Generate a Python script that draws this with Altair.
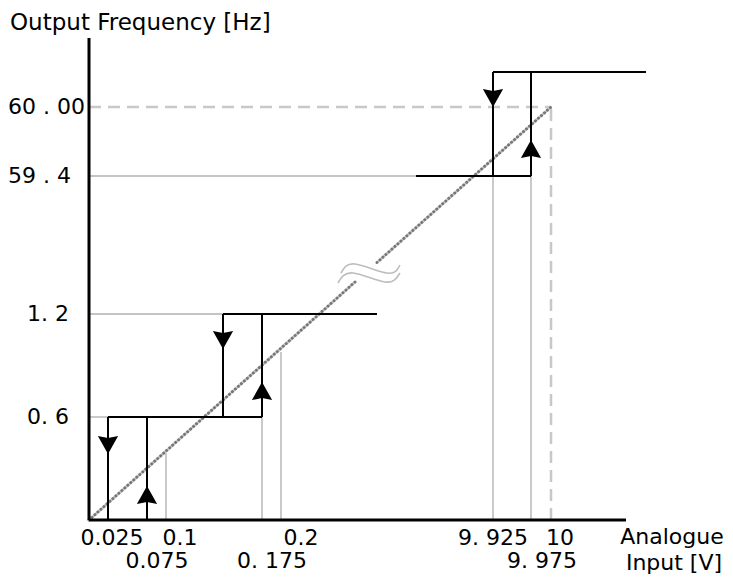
import altair as alt
import pandas as pd

# ---- schematic positions (diagram is not to scale; axis is broken) ----
# x: analogue input (V) -> schematic position
volt_names = ["0.025", "0.075", "0.1", "0.125", "0.175", "0.2", "9.925", "9.975", "10"]
volt_pos = [19, 58, 77, 134, 173, 192, 404, 442, 462]
# y: output frequency (Hz) -> schematic position
freq_names = ["0", "0.6", "1.2", "59.4", "60.00", "top"]
freq_pos = [0, 103, 206, 344, 413, 448]

V = dict(zip(volt_names, volt_pos))
F = dict(zip(freq_names, freq_pos))

# hysteresis output (black): [x1, y1, x2, y2]
step_segments = [
    [V["0.025"], F["0.6"], V["0.175"], F["0.6"]],
    [V["0.025"], F["0"], V["0.025"], F["0.6"]],
    [V["0.075"], F["0"], V["0.075"], F["0.6"]],
    [V["0.125"], F["1.2"], 288, F["1.2"]],
    [V["0.125"], F["0.6"], V["0.125"], F["1.2"]],
    [V["0.175"], F["0.6"], V["0.175"], F["1.2"]],
    [327, F["59.4"], V["9.975"], F["59.4"]],
    [V["9.925"], F["top"], 557, F["top"]],
    [V["9.925"], F["59.4"], V["9.925"], F["top"]],
    [V["9.975"], F["59.4"], V["9.975"], F["top"]],
]
# grey reference lines
guide_segments = [
    [0, F["0.6"], V["0.025"], F["0.6"]],
    [0, F["1.2"], V["0.125"], F["1.2"]],
    [0, F["59.4"], 327, F["59.4"]],
    [V["0.1"], F["0"], V["0.1"], 67],
    [V["0.175"], F["0"], V["0.175"], F["0.6"]],
    [V["0.2"], F["0"], V["0.2"], 168],
    [V["9.925"], F["0"], V["9.925"], F["59.4"]],
    [V["9.975"], F["0"], V["9.975"], F["59.4"]],
]
# dashed 60 Hz / 10 V limits
limit_segments = [
    [0, F["60.00"], V["10"], F["60.00"]],
    [V["10"], F["0"], V["10"], F["60.00"]],
]
# linear characteristic (dotted), broken in the middle
linear_segments = [
    [0, 0, 266, 238],
    [288, 257.5, V["10"], F["60.00"]],
]
# axes
axis_segments = [
    [0, 0, 537, 0],
    [0, 0, 0, 482],
]
# arrows: x, y, direction
arrow_x = [V["0.025"], V["0.075"], V["0.125"], V["0.175"], V["9.925"], V["9.975"]]
arrow_y = [75, 25, 180, 129, 422, 371]
arrow_dir = ["down", "up", "down", "up", "down", "up"]

# break symbol (two waves)
wave_x = [252, 266, 298, 311, 249, 264, 296, 311]
wave_y = [247, 256, 247, 255, 237, 247, 238, 247]
wave_id = [1, 1, 1, 1, 2, 2, 2, 2]
wave_ord = [0, 1, 2, 3, 0, 1, 2, 3]

# labels
label_text = ["0.025", "0.1", "0.2", "9. 925", "10",
              "0.075", "0. 175", "9. 975",
              "60 . 00", "59 . 4", "1. 2", "0. 6",
              "Analogue", "Input [V]", "Output Frequency  [Hz]"]
label_x = [23, 91, 212, 404, 471,
           68, 183, 453,
           -81, -81, -62, -62,
           583, 585, -79]
label_y = [-18, -18, -18, -18, -18,
           -41, -41, -41,
           F["60.00"], F["59.4"], F["1.2"], F["0.6"],
           -17, -43, 497]
label_align = ["center"] * 8 + ["left"] * 4 + ["center", "center", "left"]
label_size = [22] * 12 + [22, 22, 23]

W, H = 560, 482
xs = alt.Scale(domain=[0, W], nice=False, zero=False)
ys = alt.Scale(domain=[0, H], nice=False, zero=False)


def seg_df(segs):
    return pd.DataFrame(segs, columns=["x", "y", "x2", "y2"])


def rule_layer(segs, **style):
    return alt.Chart(seg_df(segs)).mark_rule(**style).encode(
        x=alt.X("x:Q", scale=xs, axis=None),
        y=alt.Y("y:Q", scale=ys, axis=None),
        x2="x2:Q",
        y2="y2:Q",
    )


guides = rule_layer(guide_segments, color="#c4c4c4", strokeWidth=1.8)
limits = rule_layer(limit_segments, color="#c8c8c8", strokeWidth=2.5, strokeDash=[12, 7])
linear_base = rule_layer(linear_segments, color="#cfcfcf", strokeWidth=3)
linear = rule_layer(linear_segments, color="#777777", strokeWidth=3,
                    strokeDash=[0.01, 4], strokeCap="round")
steps = rule_layer(step_segments, color="black", strokeWidth=2)
axes = rule_layer(axis_segments, color="black", strokeWidth=3)

wave_df = pd.DataFrame({"x": wave_x, "y": wave_y, "g": wave_id, "o": wave_ord})
waves = alt.Chart(wave_df).mark_line(color="#bdbdbd", strokeWidth=1.6, interpolate="natural").encode(
    x=alt.X("x:Q", scale=xs, axis=None),
    y=alt.Y("y:Q", scale=ys, axis=None),
    detail="g:N",
    order="o:Q",
)

arrow_df = pd.DataFrame({"x": arrow_x, "y": arrow_y, "d": arrow_dir})
down_path = "M-1,-0.9L0,0.9L1,-0.9L0,-0.7Z"
up_path = "M-1,0.9L0,-0.9L1,0.9L0,0.7Z"
arrows = alt.Chart(arrow_df).mark_point(filled=True, opacity=1, size=410, color="black", strokeWidth=0).encode(
    x=alt.X("x:Q", scale=xs, axis=None),
    y=alt.Y("y:Q", scale=ys, axis=None),
    shape=alt.Shape("d:N", scale=alt.Scale(domain=["down", "up"], range=[down_path, up_path]), legend=None),
)

lab_df = pd.DataFrame({"t": label_text, "x": label_x, "y": label_y, "a": label_align, "s": label_size})
texts = []
for al in ["center", "left"]:
    for sz in sorted(set(label_size)):
        sub = lab_df[(lab_df.a == al) & (lab_df.s == sz)]
        if len(sub) == 0:
            continue
        texts.append(
            alt.Chart(sub).mark_text(align=al, baseline="middle", font="DejaVu Sans",
                                     fontSize=sz, color="black").encode(
                x=alt.X("x:Q", scale=xs, axis=None),
                y=alt.Y("y:Q", scale=ys, axis=None),
                text="t:N",
            )
        )

chart = alt.layer(guides, limits, linear_base, linear, waves, steps, axes, arrows, *texts).properties(
    width=W,
    height=H,
    padding={"left": 81, "top": 30, "right": 76, "bottom": 56},
    autosize=alt.AutoSizeParams(type="none"),
    background="white",
).configure_view(stroke=None)

chart.save("out.html", embed_options={"renderer": "svg", "actions": False})
